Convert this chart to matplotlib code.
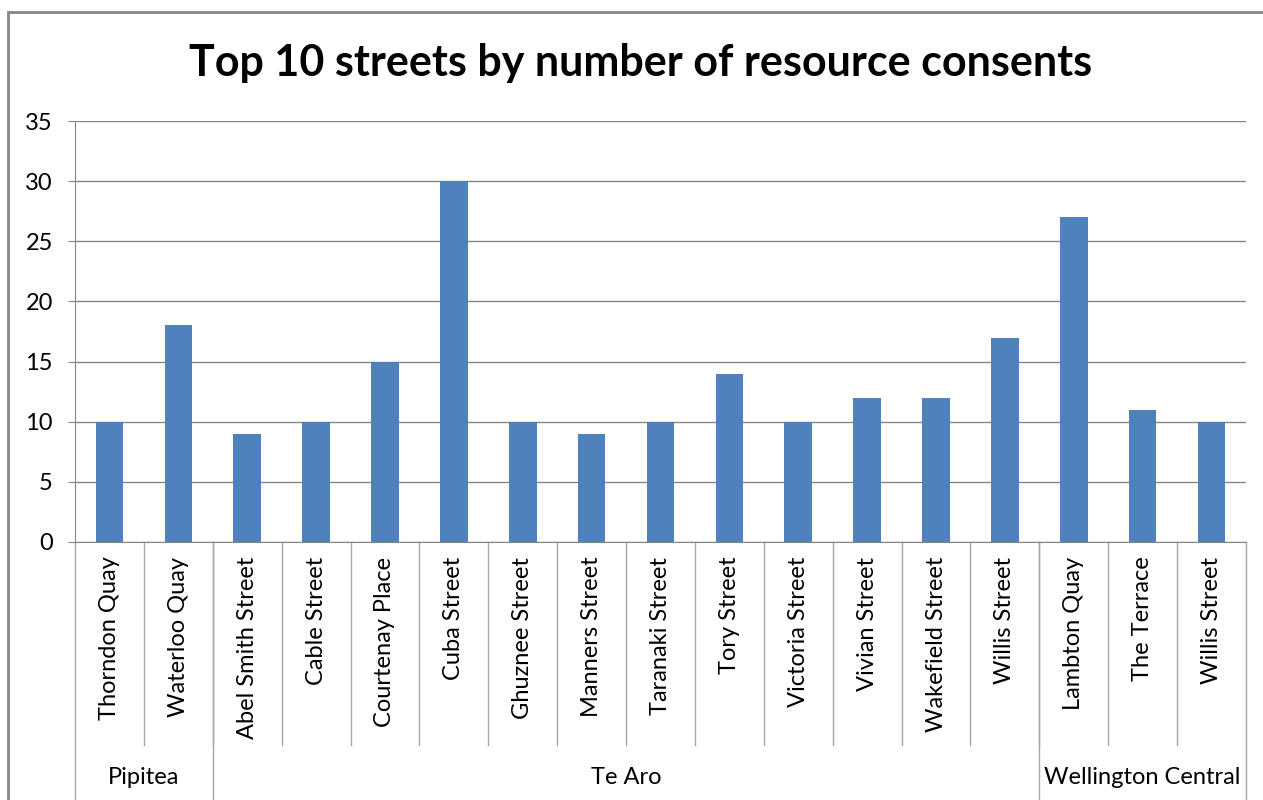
import matplotlib.pyplot as plt
from matplotlib.patches import Rectangle

streets = ["Thorndon Quay", "Waterloo Quay", "Abel Smith Street", "Cable Street",
           "Courtenay Place", "Cuba Street", "Ghuznee Street", "Manners Street",
           "Taranaki Street", "Tory Street", "Victoria Street", "Vivian Street",
           "Wakefield Street", "Willis Street", "Lambton Quay", "The Terrace",
           "Willis Street"]
consents = [10, 18, 9, 10, 15, 30, 10, 9, 10, 14, 10, 12, 12, 17, 27, 11, 10]
suburbs = ["Pipitea", "Te Aro", "Wellington Central"]
suburb_sizes = [2, 12, 3]

plt.rcParams['font.family'] = ['Lato', 'DejaVu Sans']

fig = plt.figure(figsize=(12.63, 8), dpi=100)
ax = fig.add_axes([75 / 1263, 1 - 542 / 800, (1246 - 75) / 1263, (542 - 121) / 800])

# outer chart border
fig.patches.append(Rectangle((8 / 1263, -0.05), 1.1, 0.05 + (1 - 12 / 800),
                             transform=fig.transFigure, fill=False,
                             edgecolor='#868686', linewidth=2))

x = list(range(len(streets)))
ax.bar(x, consents, width=0.4, color='#4F81BD', zorder=3)

ax.set_xlim(-0.5, len(streets) - 0.5)
ax.set_ylim(0, 35)
ax.set_yticks(range(0, 36, 5))
ax.tick_params(axis='y', labelsize=17, length=5, color='#868686', pad=11)
ax.tick_params(axis='x', bottom=False, labelbottom=False)
ax.grid(axis='y', color='#868686', linewidth=1, zorder=0)
for s in ['top', 'right']:
    ax.spines[s].set_visible(False)
ax.spines['left'].set_color('#868686')
ax.spines['bottom'].set_color('#868686')

trans = ax.get_xaxis_transform()
sep_color = '#a6a6a6'

# street labels and their separators
for i, name in enumerate(streets):
    ax.text(i, -0.035, name, rotation=90, ha='center', va='top',
            fontsize=17, transform=trans)
for b in range(1, len(streets)):
    ax.plot([b - 0.5, b - 0.5], [0, -0.482], color=sep_color, lw=1,
            transform=trans, clip_on=False)

# suburb group labels
start = 0
edges = [-0.5]
for name, n in zip(suburbs, suburb_sizes):
    mid = start + (n - 1) / 2
    ax.text(mid, -0.56, name, ha='center', va='center', fontsize=17,
            transform=trans)
    start += n
    edges.append(start - 0.5)
for e in edges:
    ax.plot([e, e], [0, -0.62], color=sep_color, lw=1,
            transform=trans, clip_on=False)

fig.text(641 / 1263, 1 - 63 / 800, 'Top 10 streets by number of resource consents',
         ha='center', va='center', fontsize=31, fontweight='bold')

fig.savefig('out.png', dpi=100)
